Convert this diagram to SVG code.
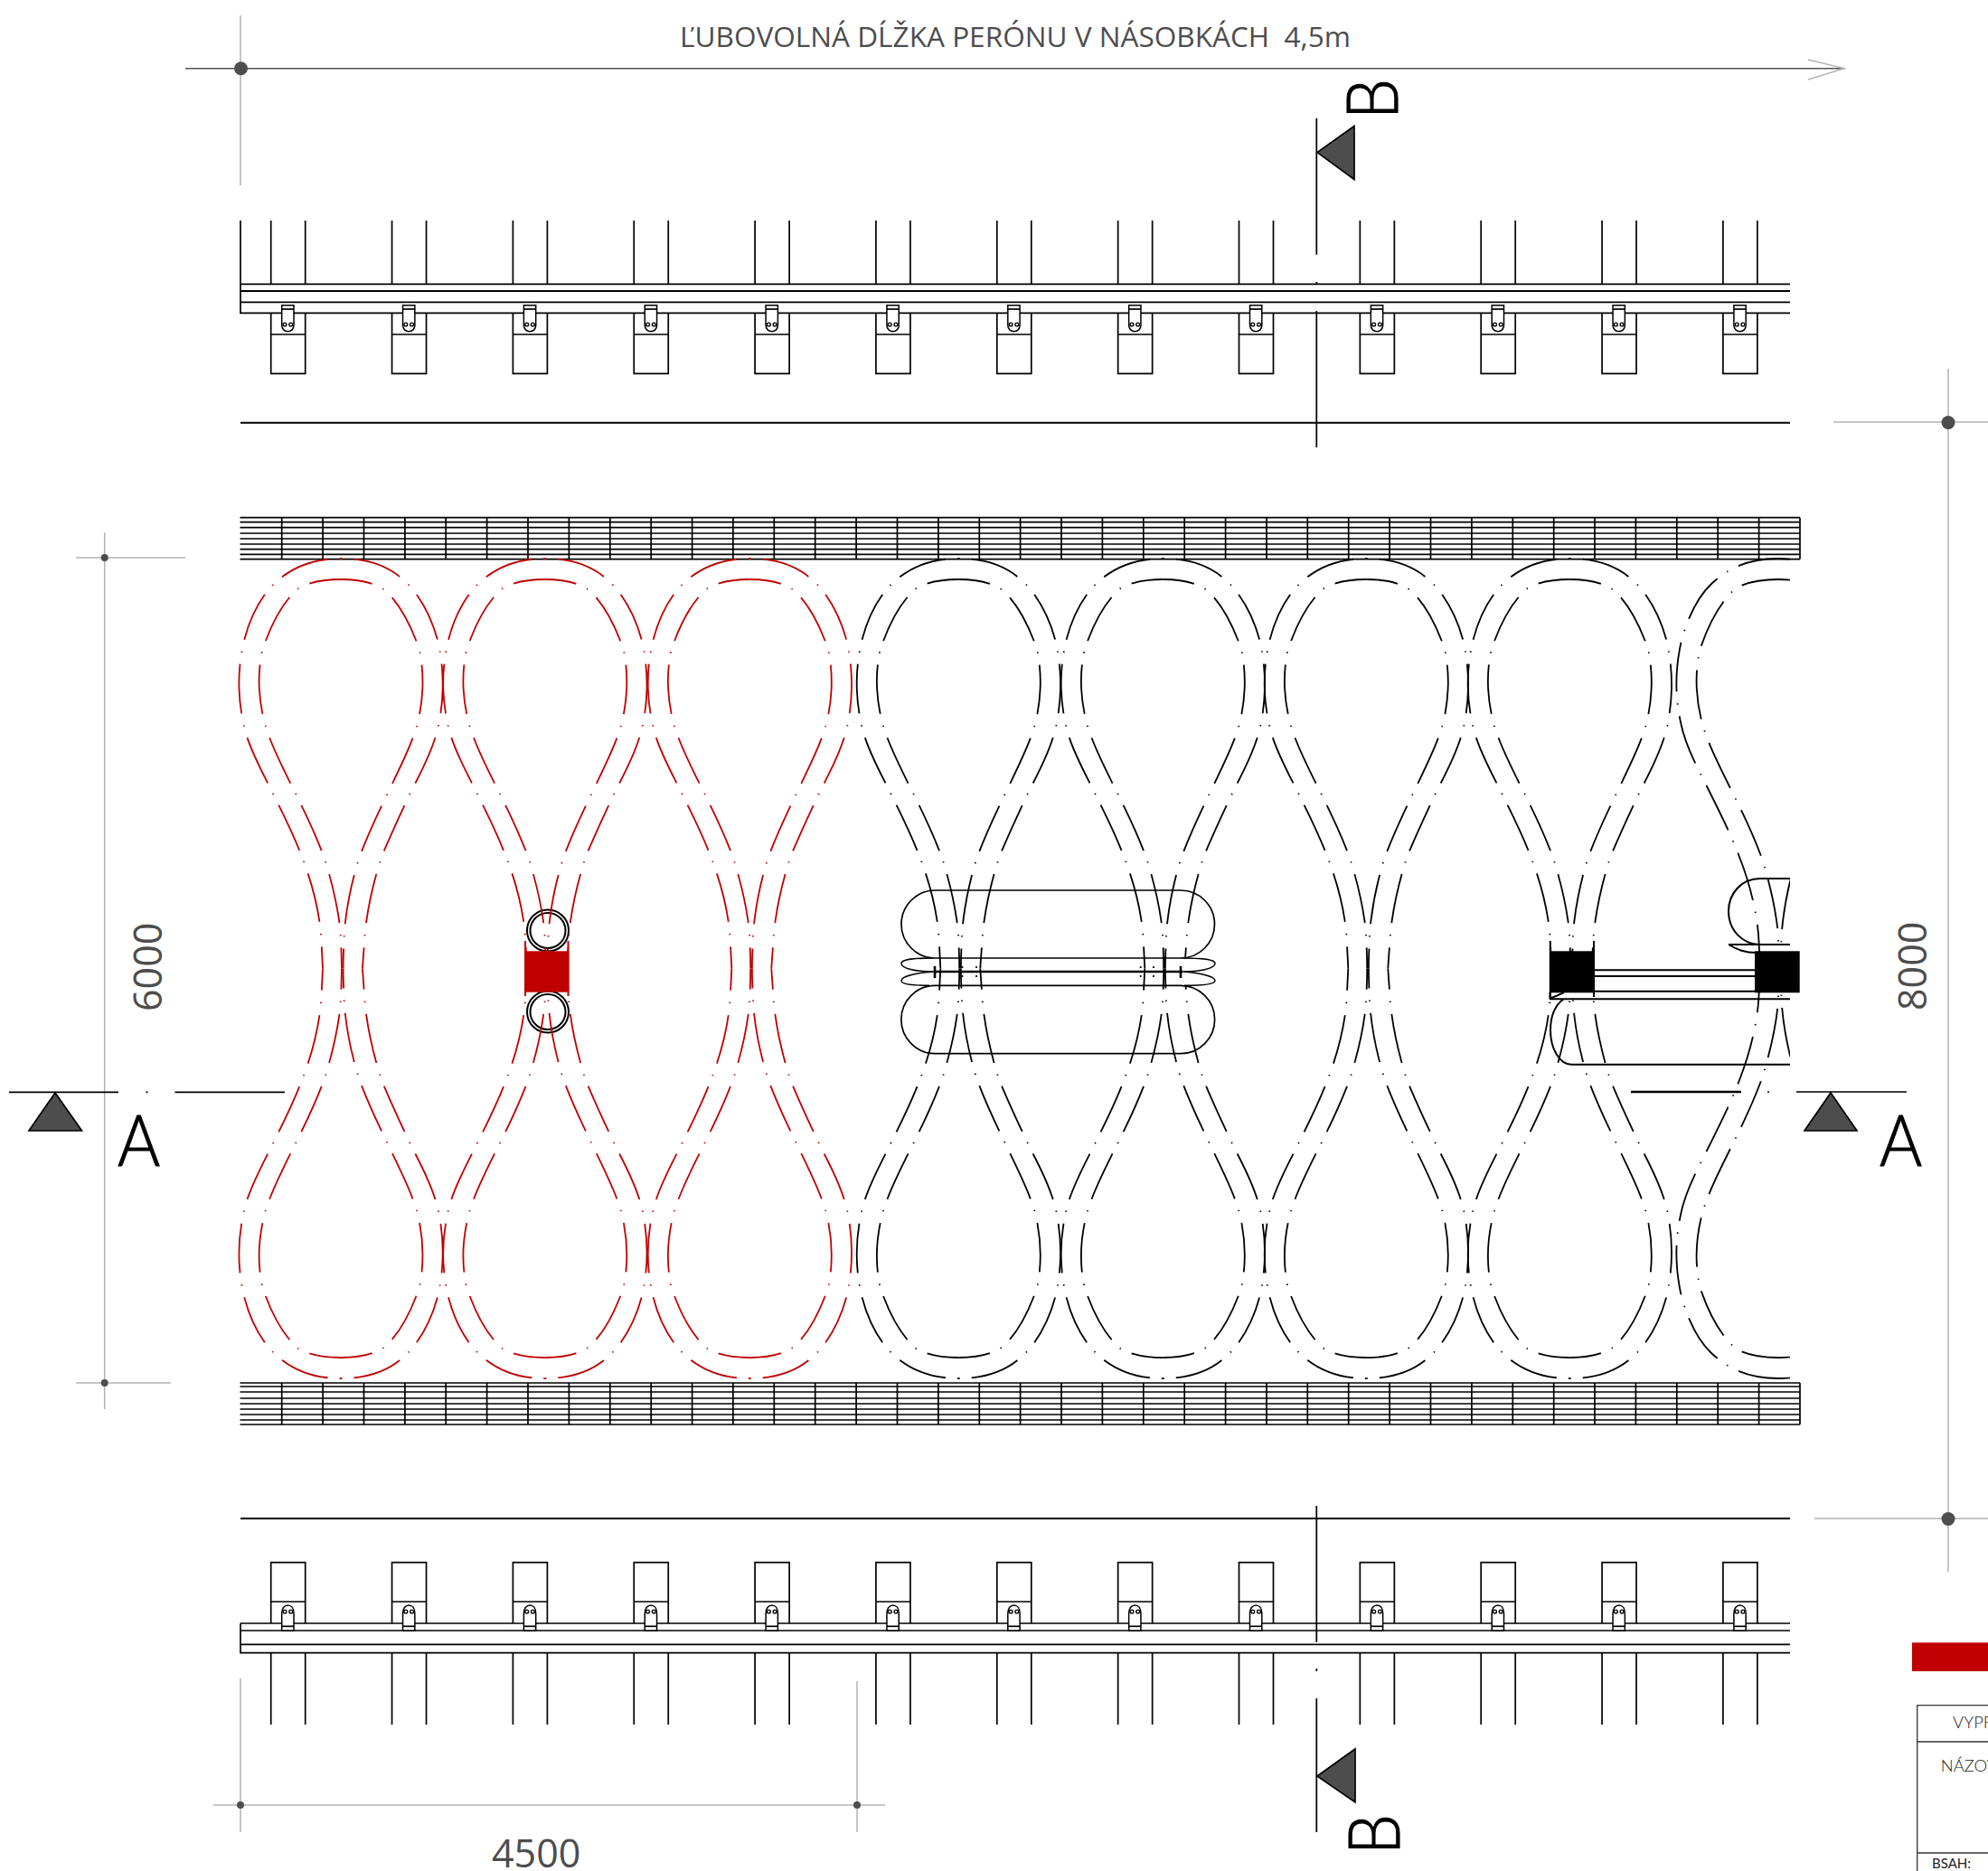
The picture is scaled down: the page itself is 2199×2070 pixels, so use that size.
<svg xmlns="http://www.w3.org/2000/svg" xmlns:xlink="http://www.w3.org/1999/xlink" width="2199" height="2070" viewBox="0 0 2199 2070">
<style>
.k{fill:none;stroke:#000;stroke-width:1.7}
.kt{fill:none;stroke:#000;stroke-width:2.6}
.dim{fill:none;stroke:#b3b3b3;stroke-width:1.5}
.dimd{fill:none;stroke:#555;stroke-width:1.6}
.dot{fill:#4d4d4d}
.tri{fill:#4d4d4d;stroke:#000;stroke-width:1.7}
.lobe{fill:none;stroke-width:1.8}
.o{stroke-dasharray:1.4 13 55 13}
.i{stroke-dasharray:55 13 1.4 13;stroke-dashoffset:20}
.o8{stroke-dasharray:55 13 1.4 13;stroke-dashoffset:10}
.i8{stroke-dasharray:55 13 1.4 13;stroke-dashoffset:14}
.clip{fill:#fff;stroke:#000;stroke-width:1.5}
.hole{fill:none;stroke:#000;stroke-width:1.4}
.t{font-family:"Open Sans","Liberation Sans",sans-serif;fill:#4d4d4d}
.sec{font-family:"Lato","Open Sans",sans-serif;font-weight:300;font-size:79px;fill:#000;stroke:#000;stroke-width:1.1}
.tb{font-family:"Lato","Open Sans",sans-serif;font-weight:300;fill:#222}
</style>
<defs>
<path id="ol" d="M377 618C345 618 322 628 303 646C285 663 272 695 268 718C263 745 263 770 269 799C274 825 288 850 300 874C312 898 325 924 334 948C345 976 354 1010 355.5 1041C356 1052 356.5 1062 357 1071.5"/>
<path id="or" d="M377 618C409 618 432 627 450 645C468 662 482 695 486 717C491 745 491 770 486 798C481 825 468 850 456 873C444 898 432 924 422 948C413 976 405 1010 403 1041C402.5 1052 401.5 1062 401 1071.5"/>
<path id="il" d="M377 641C358 641 342 644 330 651C312 666 298 695 290 720C285 745 285 770 293 801C300 825 314 852 326 876C338 900 350 925 359 950C367 975 374 1005 376.5 1030C377.3 1045 377.9 1060 377.9 1071.5"/>
<path id="ir" d="M377 641C396 641 411 644 423 651C441 664 456 695 464 719C469 745 469 770 462 800C455 825 442 850 430 875C418 900 406 925 397 950C389 975 383 1005 381 1030C380.3 1045 379.6 1060 379.6 1071.5"/>
<g id="half">
<use href="#ol" class="o"/><use href="#or" class="o"/><use href="#il" class="i"/><use href="#ir" class="i"/>
</g>
<g id="lobe" class="lobe">
<use href="#half"/><use href="#half" transform="matrix(1 0 0 -1 0 2143)"/>
</g>
<g id="half8">
<use href="#ol" class="o8"/><use href="#or" class="o8"/><use href="#il" class="i8"/><use href="#ir" class="i8"/>
</g>
<g id="lobe8" class="lobe">
<use href="#half8"/><use href="#half8" transform="matrix(1 0 0 -1 0 2143)"/>
</g>
<clipPath id="cut"><rect x="0" y="0" width="1980" height="2070"/></clipPath>
<path id="hv" class="k" d="M311.7 0V46M357.1 0V46M402.5 0V46M447.9 0V46M493.2 0V46M538.6 0V46M584 0V46M629.4 0V46M674.8 0V46M720.2 0V46M765.6 0V46M810.9 0V46M856.3 0V46M901.7 0V46M947.1 0V46M992.5 0V46M1037.9 0V46M1083.3 0V46M1128.6 0V46M1174 0V46M1219.4 0V46M1264.8 0V46M1310.2 0V46M1355.6 0V46M1401 0V46M1446.3 0V46M1491.7 0V46M1537.1 0V46M1582.5 0V46M1627.9 0V46M1673.3 0V46M1718.7 0V46M1764 0V46M1809.4 0V46M1854.8 0V46M1900.2 0V46M1945.6 0V46M1991 0V46"/>
<g id="railT">
<path class="k" d="M299.7 244V314M337.7 244V314M299.7 346V413.3H337.7V346M299.7 370H337.7"/>
<path class="clip" d="M311.7 337.7H325V360C325 364 322 366.7 318.4 366.7C315 366.7 311.7 364 311.7 360Z"/>
<path class="k" d="M311.7 342H325"/>
<circle class="hole" cx="315" cy="359" r="1.9"/><circle class="hole" cx="321.7" cy="359" r="1.9"/>
</g>
<g id="railB">
<path class="k" d="M299.7 1829V1908M337.7 1829V1908M299.7 1796V1728.7H337.7V1796M299.7 1772H337.7"/>
<path class="clip" d="M311.7 1804V1785C311.7 1779 315 1776 318.4 1776C322 1776 325 1779 325 1785V1804Z"/>
<path class="k" d="M311.7 1799.3H325"/>
<circle class="hole" cx="315" cy="1783" r="1.9"/><circle class="hole" cx="321.7" cy="1783" r="1.9"/>
</g>
</defs>

<g id="dimensions">
<path class="dimd" d="M205 75.7H2040"/>
<path class="dim" d="M2000 66L2040 75.7L2000 88M266 17V205"/>
<circle class="dot" cx="266.5" cy="75.7" r="7.5"/>
<text class="t" x="752" y="51.7" font-size="30.5" xml:space="preserve" style="white-space:pre" textLength="742" lengthAdjust="spacingAndGlyphs">ĽUBOVOLNÁ DĹŽKA PERÓNU V NÁSOBKÁCH  4,5m</text>
<path class="dim" d="M115.7 589V1559M84 617H205M84 1530H189"/>
<circle class="dot" cx="115.7" cy="617" r="4"/><circle class="dot" cx="115.7" cy="1530" r="4"/>
<text class="t" transform="translate(179 1119) rotate(-90)" font-size="43">6000</text>
<path class="dim" d="M2155 408V1739M2028 467H2199M2007 1680H2199"/>
<circle class="dot" cx="2155" cy="467.5" r="7.5"/><circle class="dot" cx="2155" cy="1680.5" r="7.5"/>
<text class="t" transform="translate(2131 1118) rotate(-90)" font-size="43">8000</text>
<path class="dim" d="M236 1997H979M266 1857V2027M948 1860V2027"/>
<circle class="dot" cx="266" cy="1997" r="4"/><circle class="dot" cx="948" cy="1997" r="4"/>
<text class="t" x="544" y="2066" font-size="43">4500</text>
</g>

<g id="track-top">
<path class="k" d="M266 244V346.3H1980M266 314.3H1980M266 334.3H1980"/>
<path class="k" style="stroke-width:2.1" d="M266 322H1980M266 467.7H1980"/>
<use href="#railT"/><use href="#railT" x="133.85"/><use href="#railT" x="267.7"/><use href="#railT" x="401.55"/><use href="#railT" x="535.4"/><use href="#railT" x="669.25"/><use href="#railT" x="803.1"/><use href="#railT" x="936.95"/><use href="#railT" x="1070.8"/><use href="#railT" x="1204.65"/><use href="#railT" x="1338.5"/><use href="#railT" x="1472.35"/><use href="#railT" x="1606.2"/>
</g>

<g id="track-bottom">
<path class="k" d="M266 1796V1828.7H1980M266 1796H1980M266 1804H1980M266 1819.3H1980"/>
<path class="k" style="stroke-width:2.1" d="M266 1680H1980"/>
<use href="#railB"/><use href="#railB" x="133.85"/><use href="#railB" x="267.7"/><use href="#railB" x="401.55"/><use href="#railB" x="535.4"/><use href="#railB" x="669.25"/><use href="#railB" x="803.1"/><use href="#railB" x="936.95"/><use href="#railB" x="1070.8"/><use href="#railB" x="1204.65"/><use href="#railB" x="1338.5"/><use href="#railB" x="1472.35"/><use href="#railB" x="1606.2"/>
</g>

<g id="grating-top">
<path class="k" d="M265.5 572.7H1991M265.5 577.7H1991M265.5 583.7H1991M265.5 590H1991M265.5 596H1991M265.5 602H1991M265.5 607.7H1991M265.5 613.3H1991M265.5 618.7H1991"/>
<use href="#hv" y="572.7"/>
</g>
<g id="grating-bottom">
<path class="k" d="M265.5 1530H1991M265.5 1534H1991M265.5 1540H1991M265.5 1547H1991M265.5 1553H1991M265.5 1559H1991M265.5 1565H1991M265.5 1571H1991M265.5 1576H1991"/>
<use href="#hv" y="1530"/>
</g>

<g id="unit-red-details">
<circle class="k" style="stroke-width:2" cx="606" cy="1029.5" r="23"/><circle class="k" style="stroke-width:2" cx="606" cy="1029.5" r="19.5"/>
<circle class="k" style="stroke-width:2" cx="606" cy="1119.5" r="23"/><circle class="k" style="stroke-width:2" cx="606" cy="1119.5" r="19.5"/>
</g>

<g id="lobes">
<g stroke="#c00000">
<use href="#lobe"/><use href="#lobe" x="225.8"/><use href="#lobe" x="452.3"/>
</g>
<g stroke="#000">
<use href="#lobe" x="683.3"/><use href="#lobe" x="909.3"/><use href="#lobe" x="1134.3"/><use href="#lobe" x="1359.3"/>
<g clip-path="url(#cut)"><use href="#lobe8" x="1590"/></g>
</g>
</g>

<g id="red-block">
<rect x="580" y="1052.3" width="49.3" height="45.4" fill="#c00000"/>
<path fill="none" stroke="#c00000" stroke-width="2" d="M581 1041V1102M628.5 1041V1102"/>
</g>

<g id="stadium">
<path class="k" d="M1034.5 985H1306A37.5 37.5 0 0 1 1306 1060H1034.5A37.5 37.5 0 0 1 1034.5 985Z"/>
<path class="k" d="M1034.5 1090.3H1306A37.7 37.7 0 0 1 1306 1165.7H1034.5A37.7 37.7 0 0 1 1034.5 1090.3Z"/>
<path class="k" style="stroke-width:1.5;fill:#fff" d="M1033 1060C1005 1060 997 1062 997 1066C997 1072 1015 1075 1033 1075C1015 1076 997 1080 997 1085C997 1089 1010 1090.3 1028 1090.3"/>
<path class="k" style="stroke-width:1.5;fill:#fff" d="M1306 1060C1335 1060 1344 1062 1344 1066C1344 1072 1325 1075 1308 1075C1325 1076 1344 1080 1344 1085C1344 1089 1330 1090.3 1310 1090.3"/>
<path class="kt" d="M1033 1075H1308"/>
<path class="kt" d="M1034 1069V1082M1306 1069V1082"/>
<path class="k" style="stroke-dasharray:2 3" d="M1064.5 1069V1084M1080 1069V1084M1261.7 1069V1084M1276 1069V1084"/>
</g>

<g id="block-7">
<rect x="1714.3" y="1052.3" width="49.7" height="46"/>
<rect x="1941" y="1052.3" width="49.7" height="46"/>
<path class="k" style="stroke-width:2" d="M1714.8 1041V1103M1763 1041V1103"/>
<path class="k" style="stroke-width:2" d="M1764 1073.3H1941M1764 1080H1941M1764 1096.7H1941"/>
<path class="k" style="stroke-width:2" d="M1714 1105.3H1980M1730 1105C1720 1112 1715 1125 1715 1140C1715 1160 1725 1177.7 1738 1177.7H1980M1714.5 1098V1104C1720 1103 1725 1100 1730 1098"/>
<path class="k" style="stroke-width:2" d="M1980 972H1947C1925 972 1912 990 1912 1008C1912 1030 1928 1044 1945 1045M1912 1045H1980M1912 1045C1922 1051 1930 1054 1943 1054"/>
</g>

<g id="section-B">
<path class="k" d="M1456.3 130.7V281.7M1456.3 312V315M1456.3 344V495"/>
<path class="tri" d="M1457 168.6L1498 139.5V198.5Z"/>
<text class="sec" transform="translate(1546 132) rotate(-90) scale(.9 1)">B</text>
<path class="k" d="M1456.3 1666V1817M1456.3 1846V1849M1456.3 1879V2027"/>
<path class="tri" d="M1457 1965L1499 1935V1994Z"/>
<text class="sec" transform="translate(1548 2052) rotate(-90) scale(.9 1)">B</text>
</g>

<g id="section-A">
<path class="k" d="M10 1208.3H131M161.5 1208.3H163.5M193.5 1208.3H315"/>
<path class="tri" d="M61 1209L32 1251H90.5Z"/>
<text class="sec" transform="translate(130 1290) scale(.91 1)">A</text>
<path class="k" style="stroke-width:2.4" d="M1804 1208H1926"/>
<path class="k" d="M1955 1208H1957M1987 1208H2109"/>
<path class="tri" d="M2025 1209L1996 1251H2054Z"/>
<text class="sec" transform="translate(2079 1290) scale(.91 1)">A</text>
</g>

<g id="title-block">
<rect x="2115" y="1817.3" width="84" height="31.7" fill="#c00000"/>
<path fill="none" stroke="#333" stroke-width="1.3" d="M2199 1886.7H2120.7V2070M2120.7 1927H2199M2120.7 2050H2199"/>
<text class="tb" x="2160" y="1911.7" font-size="18.5">VYPR</text>
<text class="tb" x="2146.7" y="1960" font-size="18.5">NÁZOV</text>
<text class="tb" x="2137" y="2066.7" font-size="15" style="font-weight:400">BSAH:</text>
</g>
</svg>
